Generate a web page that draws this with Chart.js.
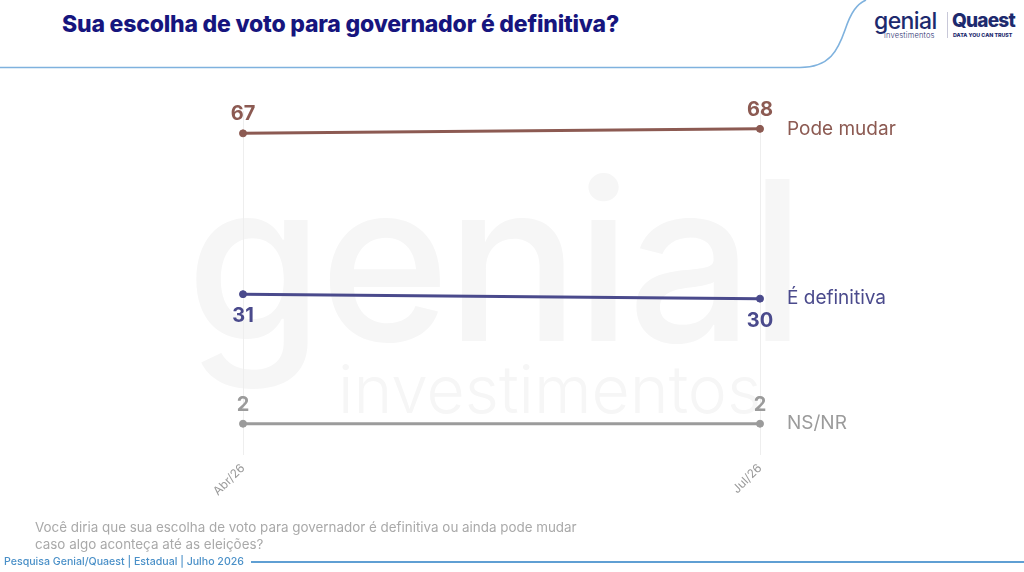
<!DOCTYPE html>
<html>
<head>
<meta charset="utf-8">
<script src="https://cdn.jsdelivr.net/npm/chart.js@4"></script>
<style>
  html, body { margin: 0; padding: 0; background: #fff; }
  body { width: 1024px; height: 572px; position: relative; overflow: hidden; font-family: Inter, "Noto Sans", sans-serif; }
  #title { position: absolute; left: 62px; top: 10px; font-size: 23px; font-weight: 800; color: #16157e; letter-spacing: -0.2px; line-height: 28px; }
  #wm1 { position: absolute; left: 186px; top: 150px; font-size: 222px; font-weight: 500; color: #f6f6f6; letter-spacing: -4px; line-height: 1; }
  #wm2 { position: absolute; left: 338px; top: 356px; font-size: 66px; font-weight: 300; color: #f6f6f6; line-height: 1; }
  #chartBox { position: absolute; left: 0; top: 0; width: 1024px; height: 572px; }
  #logo1 { position: absolute; left: 874px; top: 10px; font-size: 23px; font-weight: 500; color: #1d2a6e; letter-spacing: -0.6px; line-height: 1; }
  #logo1 span { display: block; font-size: 7.5px; font-weight: 300; letter-spacing: 0.2px; margin-left: 10px; margin-top: -1px; }
  #logoDiv { position: absolute; left: 947px; top: 12px; width: 1px; height: 26px; background: #c8c8d8; }
  #logo2 { position: absolute; left: 952px; top: 11px; font-size: 19px; font-weight: 800; color: #1d2a6e; letter-spacing: -0.8px; line-height: 1; }
  #logo2 span { display: block; font-size: 5.3px; font-weight: 800; letter-spacing: 0; margin-top: 3px; margin-left: 1px; }
  #question { position: absolute; left: 35px; top: 519px; font-size: 13.4px; color: #a9a9a9; line-height: 17px; }
  #source { position: absolute; left: 4px; top: 555px; font-size: 10.6px; font-weight: 500; color: #4a90c8; }
  #footLine { position: absolute; left: 251px; top: 561px; width: 773px; height: 1.5px; background: #5f9fd3; }
</style>
</head>
<body>
<svg width="1024" height="80" style="position:absolute;left:0;top:0">
  <path d="M0 67.5 L800 67.5 C830 67.5 838 50 845 30 C851 12 857 4 866 0" fill="none" stroke="#7fb2de" stroke-width="1.6"/>
</svg>
<div id="wm1">genial</div>
<div id="wm2">investimentos</div>
<div id="title">Sua escolha de voto para governador é definitiva?</div>
<div id="logo1">genial<span>investimentos</span></div>
<div id="logoDiv"></div>
<div id="logo2">Quaest<span>DATA YOU CAN TRUST</span></div>
<div id="chartBox"><canvas id="myChart"></canvas></div>
<div id="question">Você diria que sua escolha de voto para governador é definitiva ou ainda pode mudar<br>caso algo aconteça até as eleições?</div>
<div id="source">Pesquisa Genial/Quaest | Estadual | Julho 2026</div>
<div id="footLine"></div>

<script>
var xLabels = ["Abr/26", "Jul/26"];
var podeMudar = [67, 68];
var definitiva = [31, 30];
var nsnr = [2, 2];
var seriesNames = ["Pode mudar", "É definitiva", "NS/NR"];
var lineColors = ["#8c5a52", "#4a4a8c", "#9b9b9b"];

// numbers at the points and series names on the right
var lineLabels = {
  id: "lineLabels",
  afterDatasetsDraw: function (chart) {
    var ctx = chart.ctx;
    chart.data.datasets.forEach(function (ds, i) {
      var meta = chart.getDatasetMeta(i);
      ctx.save();
      ctx.fillStyle = ds.borderColor;
      ctx.textAlign = "center";
      ctx.font = "700 20px Inter, sans-serif";
      meta.data.forEach(function (pt, j) {
        if (ds.labelBelow) {
          ctx.textBaseline = "top";
          ctx.fillText(ds.data[j], pt.x, pt.y + 12);
        } else {
          ctx.textBaseline = "bottom";
          ctx.fillText(ds.data[j], pt.x, pt.y - 9);
        }
      });
      var last = meta.data[meta.data.length - 1];
      ctx.font = "400 19px Inter, sans-serif";
      ctx.textAlign = "left";
      ctx.textBaseline = "middle";
      ctx.fillText(ds.label, chart.chartArea.right + 27, last.y);
      ctx.restore();
    });
  },
};

new Chart("myChart", {
  type: "line",
  data: {
    labels: xLabels,
    datasets: [
      { label: seriesNames[0], data: podeMudar, borderColor: lineColors[0], backgroundColor: lineColors[0] },
      { label: seriesNames[1], data: definitiva, borderColor: lineColors[1], backgroundColor: lineColors[1], labelBelow: true },
      { label: seriesNames[2], data: nsnr, borderColor: lineColors[2], backgroundColor: lineColors[2] },
    ],
  },
  options: {
    responsive: true,
    maintainAspectRatio: false,
    animation: false,
    layout: { padding: { left: 243, right: 264, top: 111, bottom: 57 } },
    elements: {
      line: { borderWidth: 3, tension: 0 },
      point: { radius: 3.5, hoverRadius: 3.5 },
    },
    plugins: {
      legend: { display: false },
      tooltip: { enabled: false },
    },
    scales: {
      x: {
        offset: false,
        border: { display: false },
        grid: { color: "#eeeeee", lineWidth: 1, drawTicks: false },
        ticks: {
          color: "#999999",
          font: { family: "Inter", size: 12 },
          maxRotation: 45,
          minRotation: 45,
          padding: 6,
        },
        afterFit: function (scale) { scale.height = 60; },
      },
      y: {
        display: false,
        min: -5,
        max: 72,
      },
    },
  },
  plugins: [lineLabels],
});
</script>
</body>
</html>
